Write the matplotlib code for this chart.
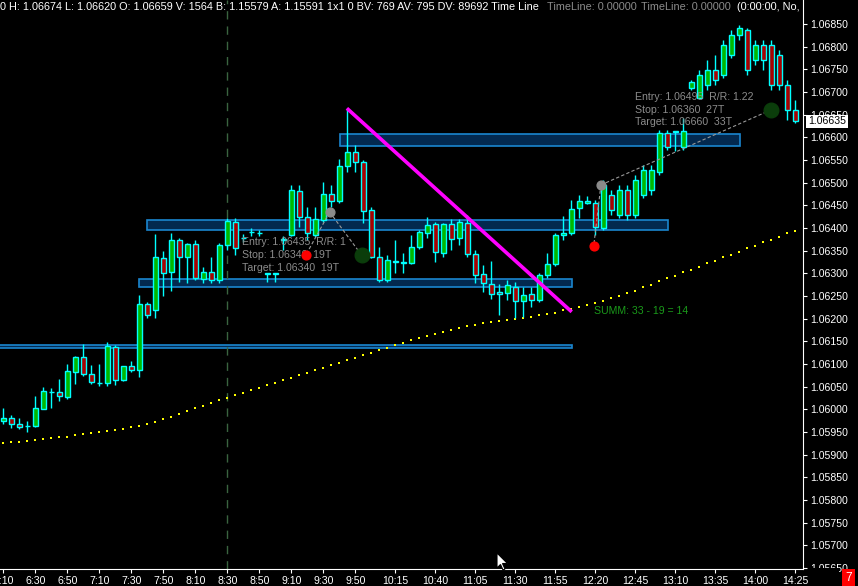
import matplotlib.pyplot as plt
from matplotlib.patches import Rectangle, Polygon
from matplotlib.transforms import blended_transform_factory

plt.rcParams['font.family'] = ['Liberation Sans', 'DejaVu Sans']

# 5-minute bars, 6:10 .. 14:25
opens = [1.05974, 1.05981, 1.05968, 1.05963, 1.05963, 1.06001, 1.06038, 1.06038, 1.06027, 1.06082,
         1.06115, 1.06078, 1.06058, 1.06058, 1.06137, 1.06065, 1.06096, 1.06087, 1.06232, 1.06219,
         1.06334, 1.06303, 1.06374, 1.06336, 1.06365, 1.06287, 1.06303, 1.06285, 1.06362, 1.06413,
         1.06378, 1.06391, 1.06389, 1.06299, 1.06299, 1.06374, 1.06385, 1.06482, 1.06424, 1.06385,
         1.06418, 1.06475, 1.06460, 1.06537, 1.06568, 1.06546, 1.06440, 1.06336, 1.06285, 1.06325,
         1.06323, 1.06323, 1.06358, 1.06389, 1.06409, 1.06345, 1.06409, 1.06378, 1.06411, 1.06343,
         1.06299, 1.06276, 1.06259, 1.06257, 1.06270, 1.06239, 1.06254, 1.06241, 1.06296, 1.06321,
         1.06385, 1.06389, 1.06444, 1.06455, 1.06455, 1.06400, 1.06473, 1.06429, 1.06484, 1.06429,
         1.06473, 1.06484, 1.06524, 1.06610, 1.06614, 1.06579, 1.06708, 1.06687, 1.06716, 1.06749,
         1.06738, 1.06782, 1.06826, 1.06837, 1.06771, 1.06804, 1.06804, 1.06782, 1.06716, 1.06660]
highs = [1.06003, 1.05988, 1.05981, 1.05974, 1.06029, 1.06049, 1.06047, 1.06067, 1.06100, 1.06118,
         1.06144, 1.06098, 1.06100, 1.06148, 1.06142, 1.06096, 1.06107, 1.06252, 1.06237, 1.06387,
         1.06349, 1.06389, 1.06378, 1.06367, 1.06374, 1.06314, 1.06336, 1.06367, 1.06422, 1.06422,
         1.06387, 1.06400, 1.06396, 1.06300, 1.06300, 1.06382, 1.06495, 1.06495, 1.06446, 1.06446,
         1.06501, 1.06495, 1.06552, 1.06665, 1.06583, 1.06550, 1.06446, 1.06358, 1.06340, 1.06374,
         1.06345, 1.06385, 1.06396, 1.06424, 1.06413, 1.06411, 1.06420, 1.06420, 1.06429, 1.06351,
         1.06318, 1.06327, 1.06276, 1.06285, 1.06281, 1.06270, 1.06270, 1.06301, 1.06345, 1.06389,
         1.06427, 1.06462, 1.06473, 1.06471, 1.06462, 1.06506, 1.06484, 1.06495, 1.06495, 1.06517,
         1.06539, 1.06539, 1.06616, 1.06616, 1.06614, 1.06643, 1.06727, 1.06749, 1.06771, 1.06782,
         1.06815, 1.06837, 1.06848, 1.06841, 1.06815, 1.06815, 1.06815, 1.06793, 1.06727, 1.06682]
lows = [1.05968, 1.05959, 1.05957, 1.05950, 1.05961, 1.06001, 1.06003, 1.06018, 1.06023, 1.06056,
        1.06073, 1.06056, 1.06051, 1.06051, 1.06054, 1.06062, 1.06082, 1.06071, 1.06201, 1.06201,
        1.06250, 1.06261, 1.06281, 1.06279, 1.06285, 1.06279, 1.06279, 1.06279, 1.06351, 1.06340,
        1.06369, 1.06382, 1.06382, 1.06281, 1.06281, 1.06351, 1.06382, 1.06402, 1.06374, 1.06380,
        1.06413, 1.06446, 1.06455, 1.06524, 1.06524, 1.06411, 1.06334, 1.06281, 1.06281, 1.06301,
        1.06301, 1.06321, 1.06354, 1.06378, 1.06325, 1.06336, 1.06351, 1.06362, 1.06336, 1.06279,
        1.06259, 1.06243, 1.06208, 1.06241, 1.06201, 1.06204, 1.06226, 1.06237, 1.06290, 1.06316,
        1.06374, 1.06385, 1.06422, 1.06453, 1.06385, 1.06396, 1.06429, 1.06422, 1.06418, 1.06422,
        1.06466, 1.06473, 1.06517, 1.06572, 1.06569, 1.06572, 1.06705, 1.06687, 1.06705, 1.06716,
        1.06731, 1.06775, 1.06815, 1.06738, 1.06760, 1.06749, 1.06705, 1.06705, 1.06638, 1.06632]
closes = [1.05981, 1.05968, 1.05961, 1.05964, 1.06003, 1.06040, 1.06039, 1.06029, 1.06085, 1.06115,
          1.06078, 1.06060, 1.06059, 1.06140, 1.06065, 1.06096, 1.06087, 1.06232, 1.06208, 1.06336,
          1.06301, 1.06374, 1.06336, 1.06365, 1.06290, 1.06303, 1.06285, 1.06362, 1.06415, 1.06356,
          1.06379, 1.06392, 1.06390, 1.06300, 1.06300, 1.06375, 1.06484, 1.06424, 1.06389, 1.06420,
          1.06475, 1.06460, 1.06537, 1.06568, 1.06546, 1.06438, 1.06336, 1.06285, 1.06329, 1.06327,
          1.06324, 1.06358, 1.06391, 1.06407, 1.06347, 1.06409, 1.06376, 1.06413, 1.06343, 1.06296,
          1.06279, 1.06254, 1.06254, 1.06274, 1.06239, 1.06252, 1.06241, 1.06296, 1.06321, 1.06385,
          1.06389, 1.06442, 1.06460, 1.06460, 1.06402, 1.06495, 1.06440, 1.06484, 1.06429, 1.06506,
          1.06528, 1.06528, 1.06610, 1.06579, 1.06612, 1.06614, 1.06721, 1.06738, 1.06749, 1.06727,
          1.06804, 1.06826, 1.06841, 1.06749, 1.06804, 1.06771, 1.06716, 1.06716, 1.06660, 1.06636]

# yellow moving average
ma = [1.05926, 1.05928, 1.05929, 1.05931, 1.05932, 1.05935, 1.05937, 1.05938, 1.05940, 1.05943,
      1.05946, 1.05948, 1.05951, 1.05953, 1.05955, 1.05957, 1.05960, 1.05963, 1.05968, 1.05973,
      1.05979, 1.05984, 1.05990, 1.05996, 1.06002, 1.06007, 1.06014, 1.06020, 1.06025, 1.06031,
      1.06036, 1.06042, 1.06047, 1.06053, 1.06058, 1.06064, 1.06069, 1.06075, 1.06080, 1.06086,
      1.06091, 1.06097, 1.06102, 1.06108, 1.06113, 1.06119, 1.06124, 1.06130, 1.06135, 1.06141,
      1.06146, 1.06152, 1.06157, 1.06162, 1.06166, 1.06171, 1.06175, 1.06180, 1.06184, 1.06187,
      1.06191, 1.06193, 1.06195, 1.06198, 1.06200, 1.06202, 1.06204, 1.06207, 1.06210, 1.06212,
      1.06218, 1.06222, 1.06226, 1.06231, 1.06235, 1.06240, 1.06246, 1.06249, 1.06256, 1.06262,
      1.06269, 1.06275, 1.06282, 1.06289, 1.06295, 1.06302, 1.06308, 1.06315, 1.06322, 1.06328,
      1.06335, 1.06341, 1.06348, 1.06355, 1.06361, 1.06368, 1.06374, 1.06381, 1.06388, 1.06394]

time_ticks = [0, 4, 8, 12, 16, 20, 24, 28, 32, 36, 40, 44, 49, 54, 59, 64, 69, 74, 79, 84, 89, 94, 99]
time_labels = ['6:10', '6:30', '6:50', '7:10', '7:30', '7:50', '8:10', '8:30', '8:50', '9:10', '9:30',
               '9:50', '10:15', '10:40', '11:05', '11:30', '11:55', '12:20', '12:45', '13:10', '13:35',
               '14:00', '14:25']
price_ticks = [1.05650 + 0.0005 * i for i in range(25)]

# zones: (start bar, end bar, low, high)
zones = [(42.1, 92.1, 1.06581, 1.06607),
         (18.0, 83.1, 1.06396, 1.06418),
         (17.0, 71.1, 1.06270, 1.06288),
         (-1.0, 71.1, 1.06135, 1.06142)]
trend_x = [42.95, 71.05]
trend_y = [1.06664, 1.06215]

# trades: entry / stop / target markers
trade1 = dict(entry=(40.8, 1.06435), stop=(37.8, 1.06340), target=(44.8, 1.06340))
trade2 = dict(entry=(74.7, 1.06495), stop=(73.8, 1.06360), target=(95.9, 1.06660))
trade1_text = ['Entry: 1.06435  R/R: 1', 'Stop: 1.06340  19T', 'Target: 1.06340  19T']
trade2_text = ['Entry: 1.06495  R/R: 1.22', 'Stop: 1.06360  27T', 'Target: 1.06660  33T']
last_price = 1.06635

fig = plt.figure(figsize=(8.58, 5.86), dpi=100, facecolor='black')
ax = fig.add_axes([0, 17 / 586, 803 / 858, 569 / 586], facecolor='black')
ax.set_xlim(-0.41, 99.96)
ax.set_ylim(1.056478, 1.069029)

for x0, x1, lo, hi in zones:
    ax.add_patch(Rectangle((x0, lo), x1 - x0, hi - lo, facecolor='#03294f',
                           edgecolor='#1a86cf', lw=1.2, zorder=1))

ax.axvline(28, color='#3a6440', lw=1, ls=(0, (6, 5)), zorder=1)

ax.scatter(range(len(ma)), ma, s=3.5, marker='s', color='#ffff00', lw=0, zorder=2)

xs = range(len(opens))
ax.vlines(xs, lows, highs, color='#00ffff', lw=1, zorder=3)
for i in xs:
    o, c = opens[i], closes[i]
    fc = '#00b800' if c > o else '#a80000'
    h = max(abs(c - o), 0.000006)
    ax.add_patch(Rectangle((i - 0.3, min(o, c)), 0.6, h, facecolor=fc,
                           edgecolor='#00ffff', lw=1, zorder=4))

ax.plot(trend_x, trend_y, color='#ff00ff', lw=2.6, zorder=5, solid_capstyle='butt')

for tr, txt, tx, ty in [(trade1, trade1_text, 29.9, [242.3, 254.5, 267.7]),
                        (trade2, trade2_text, 78.9, [96.7, 110, 122.3])]:
    ex, ey = tr['entry']
    for key in ['stop', 'target']:
        px, py = tr[key]
        ax.plot([ex, px], [ey, py], color='#9a9a9a', lw=0.8, ls=(0, (3, 2)), zorder=5)
    for line, yp in zip(txt, ty):
        ax.text(tx, 1.069029 - yp / 45333, line, color='#8c8c8c', fontsize=7.6,
                va='center', ha='left', zorder=6)
    ax.scatter([ex], [ey], s=40, color='#8a8a8a', zorder=7)
    ax.scatter([tr['stop'][0]], [tr['stop'][1]], s=40, color='#ff0000', zorder=7)
    ax.scatter([tr['target'][0]], [tr['target'][1]], s=110, color='#0b3d0b', zorder=7)

ax.text(73.8, 1.06217, 'SUMM: 33 - 19 = 14', color='#1a9a1a', fontsize=7.6, va='center', ha='left')

for s in ['left', 'top']:
    ax.spines[s].set_visible(False)
for s in ['right', 'bottom']:
    ax.spines[s].set_color('white')
ax.yaxis.tick_right()
ax.set_yticks(price_ticks)
ax.set_yticklabels([f'{p:.5f}' for p in price_ticks])
ax.set_xticks(time_ticks)
ax.set_xticklabels(time_labels)
ax.tick_params(colors='white', labelsize=7.6, length=3, pad=2)

tr = blended_transform_factory(ax.transAxes, ax.transData)
ax.text(1.006, last_price, f'{last_price:.5f}', transform=tr, color='black', fontsize=7.6,
        va='center', ha='left', bbox=dict(facecolor='white', edgecolor='none', pad=1.4), zorder=10,
        clip_on=False)

# bottom price label is clipped by the time scale strip
fig.patches.append(Rectangle((809 / 858, 0), 30 / 858, 18 / 586, transform=fig.transFigure,
                             facecolor='black', edgecolor='none', zorder=20))

hy = 1 - 7 / 586
fig.text(0, hy, '0 H: 1.06674 L: 1.06620 O: 1.06659 V: 1564 B: 1.15579 A: 1.15591 1x1 0 '
         'BV: 769 AV: 795 DV: 89692 Time Line', color='white', fontsize=7.85, va='center')
fig.text(547 / 858, hy, 'TimeLine: 0.00000', color='#8c8c8c', fontsize=7.85, va='center')
fig.text(641 / 858, hy, 'TimeLine: 0.00000', color='#8c8c8c', fontsize=7.85, va='center')
fig.text(737 / 858, hy, '(0:00:00, No,', color='white', fontsize=7.85, va='center')
fig.text(848.5 / 858, 8 / 586, '7', color='white', fontsize=8.5, ha='center', va='center',
         zorder=30, bbox=dict(facecolor='#ff0000', edgecolor='none', pad=2.2))

# mouse pointer
cur = [(0, 0), (0, 15), (3.5, 11.5), (6, 17), (8, 16), (5.5, 10.5), (10.5, 10.5)]
fig.patches.append(Polygon([((497 + px) / 858, 1 - (553 + py) / 586) for px, py in cur],
                           closed=True, transform=fig.transFigure, facecolor='white',
                           edgecolor='black', lw=0.8, zorder=25))

fig.savefig('out.png', dpi=100, facecolor='black')
